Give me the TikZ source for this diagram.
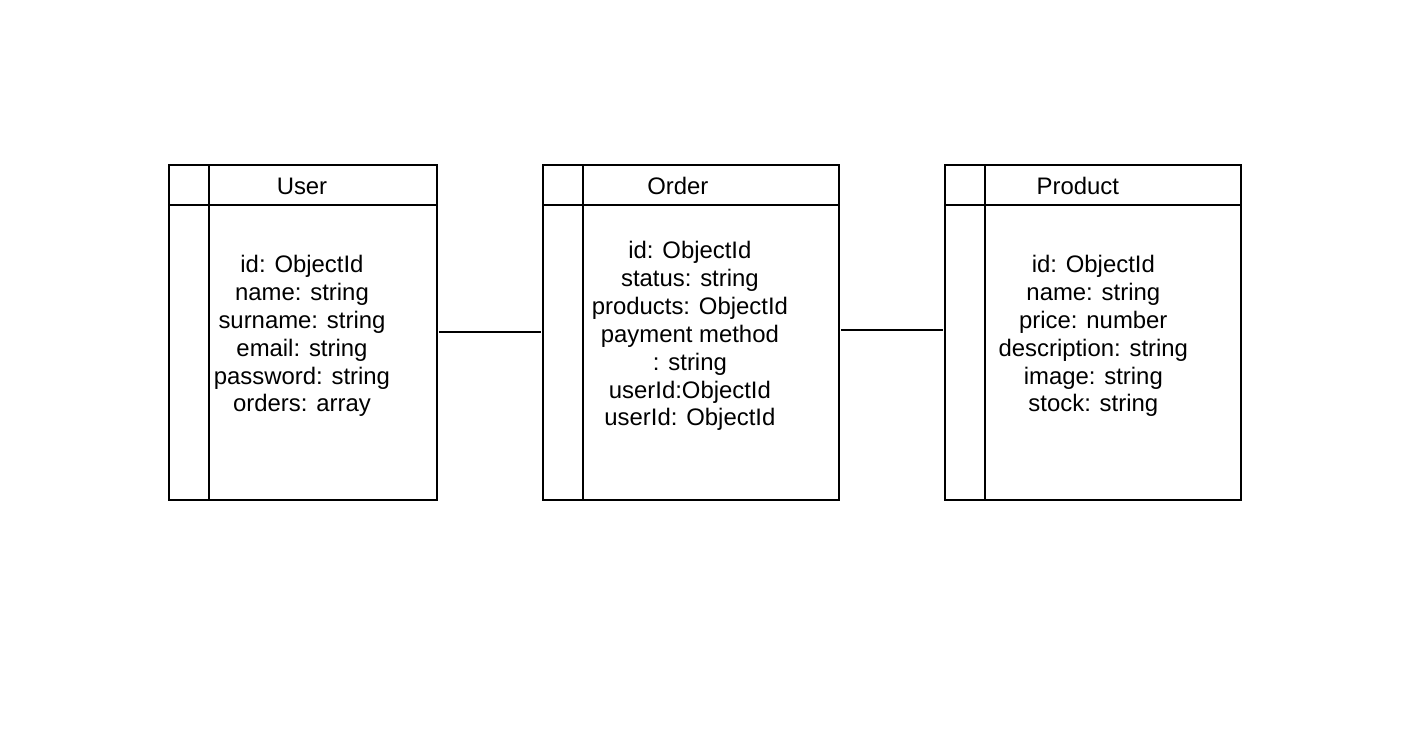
\documentclass[tikz,border=0pt]{standalone}
\usepackage{fontspec}
\setmainfont{Liberation Sans}
\usetikzlibrary{positioning}

\tikzset{
    entity/.style={draw, line width=1.1pt, outer sep=0pt, inner sep=0pt, minimum height=6.7cm},
    divider/.style={line width=1.1pt},
    header/.style={font=\fontsize{13.6}{15.9}\selectfont},
    attrs/.style={align=center, font=\fontsize{13.6}{15.9}\selectfont},
    link/.style={line width=1.1pt, shorten <=0.04cm, shorten >=0.04cm}
}

\begin{document}
\begin{tikzpicture}[x=0.02cm, y=-0.02cm]
    \useasboundingbox (0,0) rectangle (1404,756);

    % the three collections
    \node [entity, minimum width=5.36cm, anchor=north west] (user) at (169,165) {};
    \node [entity, minimum width=5.92cm, right=2.12cm of user] (order) {};
    \node [entity, minimum width=5.92cm, right=2.12cm of order] (product) {};

    % header row and key column
    \foreach \t in {user,order,product} {
        \draw [divider] ([yshift=-0.8cm]\t.north west) -- ([yshift=-0.8cm]\t.north east);
        \draw [divider] ([xshift=0.8cm]\t.north west) -- ([xshift=0.8cm]\t.south west);
    }

    \node [header] (usertitle) at ([xshift=2.66cm, yshift=-0.42cm]user.north west) {User};
    \node [header] (ordertitle) at ([xshift=2.7cm, yshift=-0.42cm]order.north west) {Order};
    \node [header] (producttitle) at ([xshift=2.66cm, yshift=-0.42cm]product.north west) {Product};

    \node [attrs] (userfields) at ([xshift=2.66cm, yshift=-0.07cm]user.west) {id: ObjectId\\name: string\\surname: string\\email: string\\password: string\\orders: array};
    \node [attrs] (orderfields) at ([xshift=2.94cm, yshift=-0.07cm]order.west) {id: ObjectId\\status: string\\products: ObjectId\\payment method\\: string\\userId:ObjectId\\userId: ObjectId};
    \node [attrs] (productfields) at ([xshift=2.97cm, yshift=-0.07cm]product.west) {id: ObjectId\\name: string\\price: number\\description: string\\image: string\\stock: string};

    % relations
    \draw [link] (user) -- (order);
    \draw [link] ([yshift=0.04cm]order.east) -- ([yshift=0.04cm]product.west);
\end{tikzpicture}
\end{document}
